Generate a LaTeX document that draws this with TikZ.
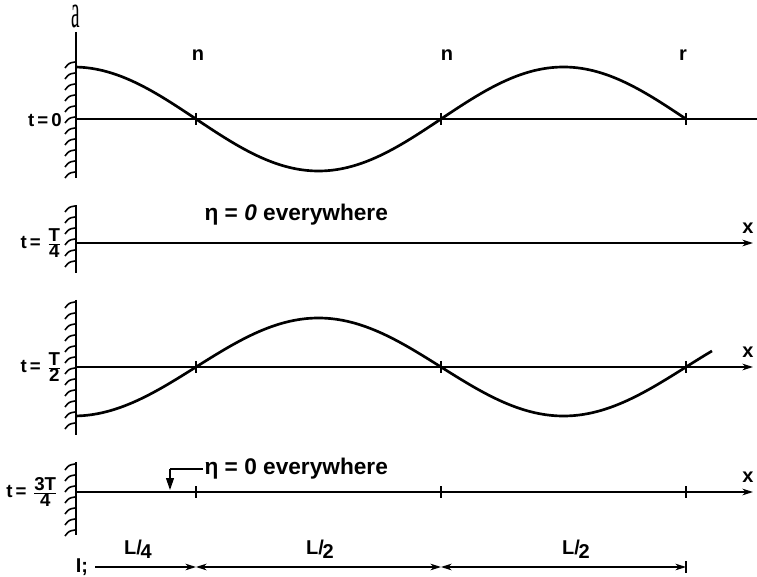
\documentclass[tikz,border=0pt]{standalone}
\usepackage{fontspec}
\setmainfont{Liberation Sans}
\newfontfamily\serifa{Liberation Serif}
\usetikzlibrary{arrows.meta}
\begin{document}
\begin{tikzpicture}[x=0.75pt,y=-0.75pt,
  axis/.style={line width=0.9pt},
  wave/.style={line width=2pt},
  wall/.style={line width=2.2pt},
  hatch/.style={line width=1.2pt},
  lbl/.style={font=\fontsize{15}{17}\selectfont\bfseries, inner sep=1pt},
  eta/.style={font=\fontsize{17}{19}\selectfont\bfseries, inner sep=1pt, anchor=west},
  tlbl/.style={font=\fontsize{14}{16}\selectfont\bfseries, inner sep=0pt, anchor=east},
  arr/.style={-{Stealth[length=8pt,width=5pt]}},
  dimline/.style={line width=0.8pt}]
\useasboundingbox (0,0) rectangle (757,577);
% walls with hatching
\foreach \ya/\yb/\name in {32/178/w1, 205/273/w2, 300/435/w3, 462/535/w4}{
  \coordinate (\name top) at (76,\ya);
  \coordinate (\name bot) at (76,\yb);
  \draw[wall] (\name top) -- (\name bot);
}
\foreach \y in {62,73,...,175}{\draw[hatch] (75,\y) .. controls (69,\y+1) .. (65,\y+6);}
\foreach \y in {206,217,...,270}{\draw[hatch] (75,\y) .. controls (69,\y+1) .. (65,\y+6);}
\foreach \y in {302,313,...,432}{\draw[hatch] (75,\y) .. controls (69,\y+1) .. (65,\y+6);}
\foreach \y in {464,475,...,532}{\draw[hatch] (75,\y) .. controls (69,\y+1) .. (65,\y+6);}
% axes
\coordinate (a1s) at (76,119); \coordinate (a1e) at (757,119);
\coordinate (a2s) at (76,243); \coordinate (a2e) at (753,243);
\coordinate (a3s) at (76,367); \coordinate (a3e) at (753,367);
\coordinate (a4s) at (76,492); \coordinate (a4e) at (753,492);
\draw[axis] (a1s) -- (a1e);
\draw[axis,arr] (a2s) -- (a2e);
\draw[axis,arr] (a3s) -- (a3e);
\draw[axis,arr] (a4s) -- (a4e);
% ticks
\foreach \x in {196,441,686}{
  \draw[line width=0.9pt] (\x,113) -- (\x,125);
  \draw[line width=0.9pt] (\x,361) -- (\x,373);
  \draw[line width=0.9pt] (\x,486) -- (\x,498);
}
% waves
\draw[wave] plot[domain=76:686,samples=120,smooth] (\x,{119-52*cos(0.73469*(\x-73.5))});
\draw[wave] plot[domain=76:712,samples=120,smooth] (\x,{367+49*cos(0.73469*(\x-73.5))});
% labels
\node[font=\serifa\fontsize{24}{24}\selectfont, inner sep=0pt] (la) at (76,16) {\scalebox{0.6}[1.5]{a}};
\node[lbl] (n1) at (198,55) {n};
\node[lbl] (n2) at (447,55) {n};
\node[lbl] (r1) at (683,55) {r};
\node[tlbl] (t0) at (62,120) {t\,=\,0};
\node[tlbl] (t1) at (62,243) {t\,=\,\,$\frac{\mbox{\bfseries T}}{\mbox{\bfseries 4}}$};
\node[tlbl] (t2) at (62,367) {t\,=\,\,$\frac{\mbox{\bfseries T}}{\mbox{\bfseries 2}}$};
\node[tlbl] (t3) at (58,492) {t\,=\,\,$\frac{\mbox{\bfseries 3T}}{\mbox{\bfseries 4}}$};
\node[lbl] (x2) at (748,228) {x};
\node[lbl] (x3) at (748,352) {x};
\node[lbl] (x4) at (748,477) {x};
\node[eta] (eta1) at (203,215) {η = \textit{0} everywhere};
\node[eta] (eta2) at (203,469) {η = 0 everywhere};
\coordinate (p1) at (170,469);
\coordinate (p2) at (170,490);
\draw[line width=0.9pt] (eta2.west) -- (p1);
\draw[line width=0.9pt,-{Triangle[length=9pt,width=6pt]}] (p1) -- (p2);
% dimension line
\coordinate (d0) at (95,567);
\coordinate (d1) at (196,567);
\coordinate (d2) at (441,567);
\coordinate (d3) at (686,567);
\draw[dimline,-{Stealth[length=8pt,width=5pt]}] (d0) -- (d1);
\draw[dimline,{Stealth[length=8pt,width=5pt]}-{Stealth[length=8pt,width=5pt]}] (d1) -- (d2);
\draw[dimline,{Stealth[length=8pt,width=5pt]}-{Stealth[length=8pt,width=5pt]}] (d2) -- (d3);
\draw[line width=1pt] (686,561) -- (686,573);
\node[lbl] (il) at (82,567) {I;};
\node[lbl] (L4) at (138,549) {L/\kern-1pt\raisebox{-3pt}{4}};
\node[lbl] (L2a) at (320,549) {L/\kern-1pt\raisebox{-3pt}{2}};
\node[lbl] (L2b) at (576,549) {L/\kern-1pt\raisebox{-3pt}{2}};
\end{tikzpicture}
\end{document}
